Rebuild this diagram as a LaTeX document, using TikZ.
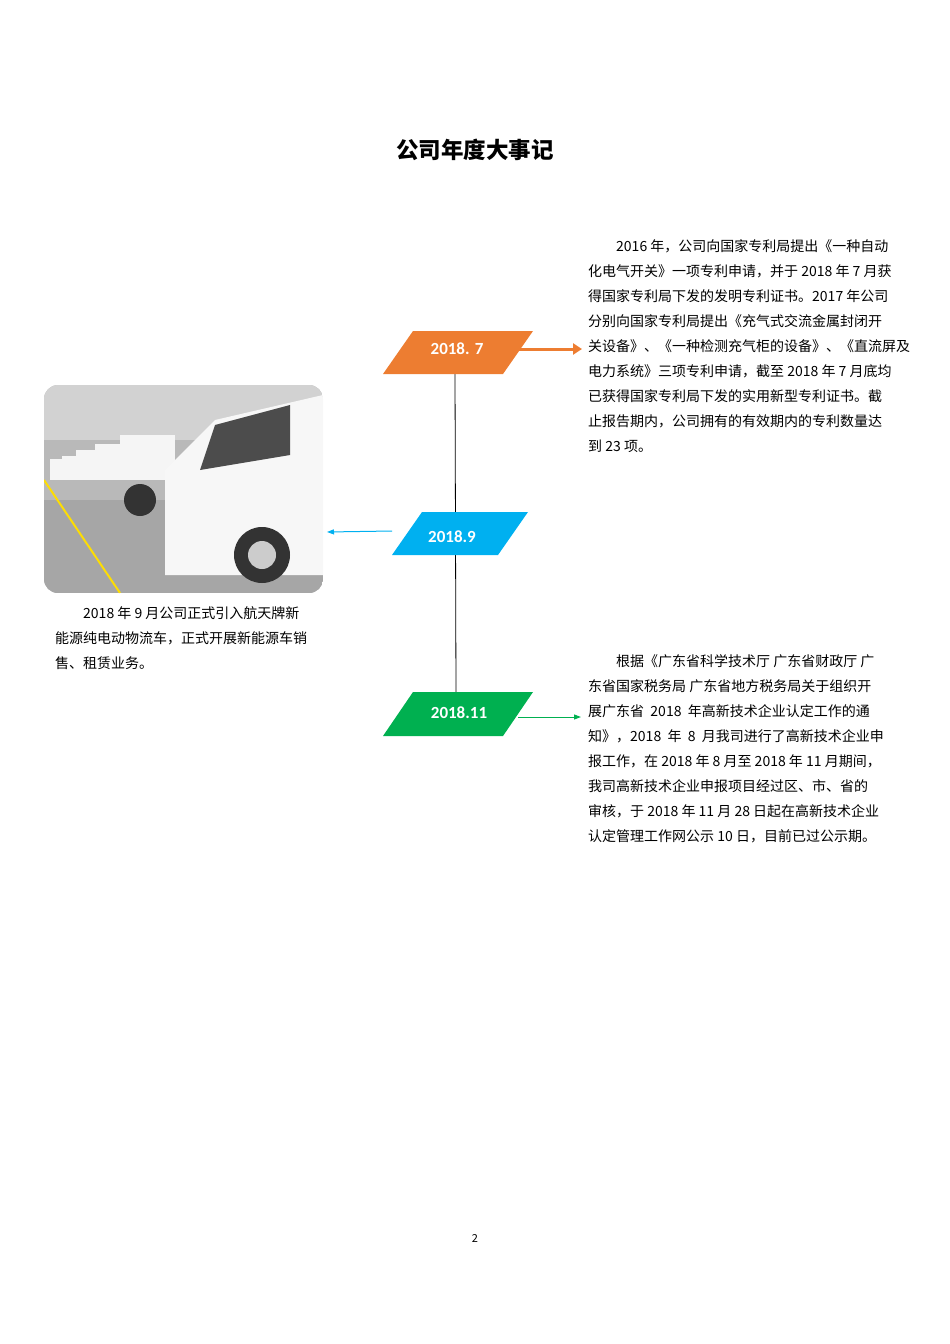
\documentclass[tikz,border=0pt]{standalone}
\usepackage{fontspec}
\setmainfont{Noto Sans CJK SC}
\newfontfamily\numf{Carlito}
\usetikzlibrary{arrows.meta}
\definecolor{orng}{HTML}{ED7D31}
\definecolor{blu}{HTML}{00B0F0}
\definecolor{grn}{HTML}{00B050}
\tikzset{
 ln/.style={anchor=west,inner sep=0pt,font=\fontsize{14}{16}\selectfont},
 lbl/.style={text=white,font=\numf\bfseries\fontsize{17}{20}\selectfont},
}
\begin{document}
\begin{tikzpicture}[x=1pt,y=-1pt]
\useasboundingbox (0,0) rectangle (950,1344);
\node (title) at (475,150) {\fontsize{22.5}{26}\selectfont\bfseries 公司年度大事记};
% timeline
\coordinate (ta) at (455,374);
\coordinate (tb) at (456,692);
\draw[black,line width=0.8pt] (ta) -- (tb);
\fill[orng] (383,374) -- (413,331) -- (533,331) -- (503,374) -- cycle;
\node[lbl] (o) at (457,349) {2018. 7};
\fill[blu] (392,555) -- (422,512) -- (528,512) -- (498,555) -- cycle;
\node[lbl] (b) at (452,537) {2018.9};
\fill[grn] (383,736) -- (413,692) -- (533,692) -- (503,736) -- cycle;
\node[lbl] (g) at (459,713) {2018.11};
\coordinate (oa) at (518,349); \coordinate (ob) at (582,349);
\draw[orng,line width=3pt,-{Triangle[length=9pt,width=11pt]}] (oa) -- (ob);
\coordinate (ba) at (392,531); \coordinate (bb) at (327,532);
\draw[blu,line width=1pt,-{Triangle[length=7pt,width=5pt]}] (ba) -- (bb);
\coordinate (ga) at (518,717); \coordinate (gb) at (581,717);
\draw[grn,line width=1pt,-{Triangle[length=7pt,width=5pt]}] (ga) -- (gb);
% photo
\begin{scope}
\clip[rounded corners=14pt] (44,385) rectangle (323,593);
\fill[gray!55] (44,385) rectangle (323,593);
\fill[gray!35] (44,385) rectangle (323,440);
\fill[gray!70] (44,500) rectangle (323,593);
\foreach \x/\s in {50/0.35,62/0.4,76/0.5,95/0.6,120/0.75} {
 \fill[white!92!gray] (\x,480) rectangle (\x+60*\s+10,480-60*\s);
}
\fill[white!94!gray] (165,575) -- (165,470) -- (215,420) -- (323,395) -- (323,575) -- cycle;
\fill[gray!60!black] (215,425) -- (290,405) -- (290,455) -- (200,470) -- cycle;
\fill[black!80] (262,555) circle (28pt);
\fill[gray!40] (262,555) circle (14pt);
\fill[black!80] (140,500) circle (16pt);
\draw[yellow!80!orange,line width=2pt] (44,480) -- (120,593);
\end{scope}
% left text
\node[ln] (l1) at (55,613) {\hspace{2em}2018 年 9 月公司正式引入航天牌新};
\node[ln] (l2) at (55,638) {能源纯电动物流车，正式开展新能源车销};
\node[ln] (l3) at (55,663) {售、租赁业务。};
% right text 1
\node[ln] (r1) at (588,246) {\hspace{2em}2016 年，公司向国家专利局提出《一种自动};
\node[ln] (r2) at (588,271) {化电气开关》一项专利申请，并于 2018 年 7 月获};
\node[ln] (r3) at (588,296) {得国家专利局下发的发明专利证书。2017 年公司};
\node[ln] (r4) at (588,321) {分别向国家专利局提出《充气式交流金属封闭开};
\node[ln] (r5) at (588,346) {关设备》、《一种检测充气柜的设备》、《直流屏及};
\node[ln] (r6) at (588,371) {电力系统》三项专利申请，截至 2018 年 7 月底均};
\node[ln] (r7) at (588,396) {已获得国家专利局下发的实用新型专利证书。截};
\node[ln] (r8) at (588,421) {止报告期内，公司拥有的有效期内的专利数量达};
\node[ln] (r9) at (588,446) {到 23 项。};
% right text 2
\node[ln] (s1) at (588,661) {\hspace{2em}根据《广东省科学技术厅 广东省财政厅 广};
\node[ln] (s2) at (588,686) {东省国家税务局 广东省地方税务局关于组织开};
\node[ln] (s3) at (588,711) {展广东省\ \ 2018\ \ 年高新技术企业认定工作的通};
\node[ln] (s4) at (588,736) {知》，2018\ \ 年\ \ 8\ \ 月我司进行了高新技术企业申};
\node[ln] (s5) at (588,761) {报工作，在 2018 年 8 月至 2018 年 11 月期间，};
\node[ln] (s6) at (588,786) {我司高新技术企业申报项目经过区、市、省的};
\node[ln] (s7) at (588,811) {审核，于 2018 年 11 月 28 日起在高新技术企业};
\node[ln] (s8) at (588,836) {认定管理工作网公示 10 日，目前已过公示期。};
\node (pg) at (475,1238) {\fontsize{11}{12}\selectfont 2};
\end{tikzpicture}
\end{document}
